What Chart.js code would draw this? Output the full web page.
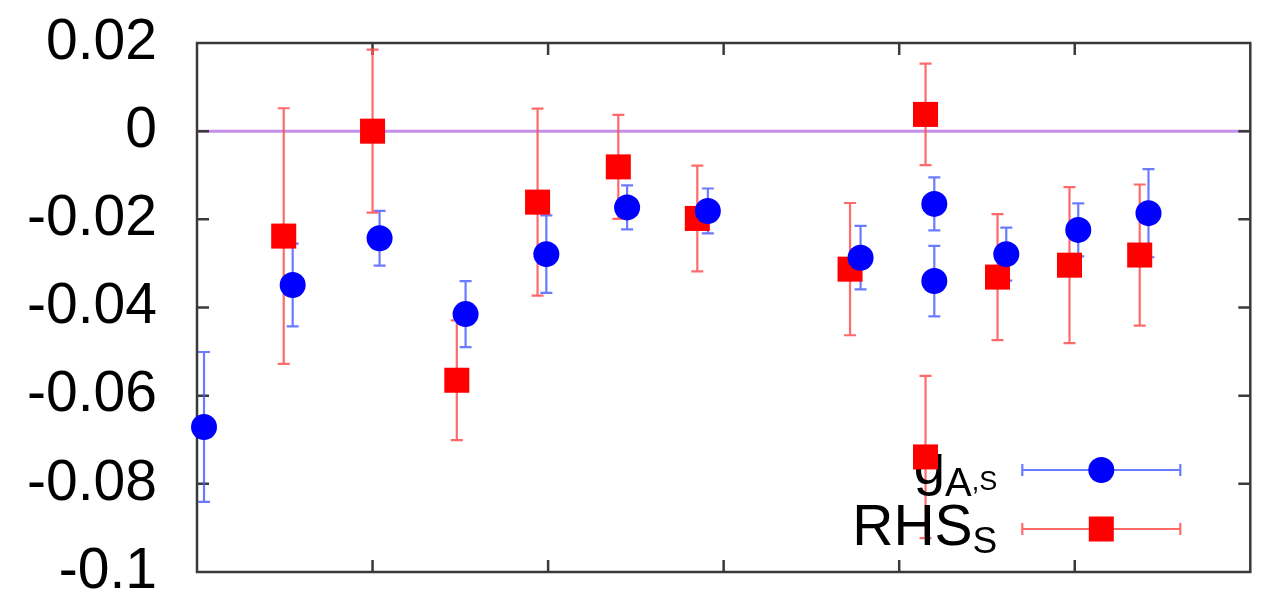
<!DOCTYPE html>
<html>
<head>
<meta charset="utf-8">
<script src="https://cdn.jsdelivr.net/npm/chart.js@4/dist/chart.umd.min.js"></script>
<style>
  body { margin: 0; background: #fff; }
  #wrap { width: 1268px; height: 595px; }
</style>
</head>
<body>
<div id="wrap"><canvas id="plot"></canvas></div>
<script>
// g_A,s points: position, central value, error
const gaX = [0.04, 0.545, 1.04, 1.53, 1.99, 2.45, 2.91, 3.78, 4.20, 4.20, 4.61, 5.02, 5.42];
const gaY = [-0.0671, -0.0349, -0.0243, -0.0415, -0.0279, -0.0173, -0.0181, -0.0287, -0.0165, -0.0340, -0.0279, -0.0224, -0.0186];
const gaErr = [0.0170, 0.0094, 0.0062, 0.0075, 0.0088, 0.0050, 0.0051, 0.0072, 0.0060, 0.0080, 0.0060, 0.0060, 0.0100];

// RHS_s points
const rhsX = [0.494, 1.0, 1.48, 1.94, 2.40, 2.85, 3.72, 4.15, 4.15, 4.56, 4.97, 5.37];
const rhsY = [-0.0238, 0.0, -0.0565, -0.0161, -0.0081, -0.0198, -0.0313, 0.0038, -0.0739, -0.0331, -0.0304, -0.0281];
const rhsErr = [0.0290, 0.0185, 0.0136, 0.0212, 0.0118, 0.0120, 0.0150, 0.0115, 0.0184, 0.0143, 0.0177, 0.0160];

const yTicks = [0.02, 0, -0.02, -0.04, -0.06, -0.08, -0.1];
const yTickLabels = ['0.02', '0', '-0.02', '-0.04', '-0.06', '-0.08', '-0.1'];
const xTicks = [1, 2, 3, 4, 5];

const FONT = '"Liberation Sans", Arial, Helvetica, sans-serif';

function toPoints(xs, ys, errs) {
  return xs.map((x, i) => ({ x: x, y: ys[i], err: errs[i] }));
}

// frame with inward ticks on all four sides, plus the zero line
const framePlugin = {
  id: 'frame',
  beforeDatasetsDraw(chart) {
    const { ctx, chartArea: a, scales } = chart;
    ctx.save();

    const y0 = scales.y.getPixelForValue(0);
    ctx.strokeStyle = '#c690ea';
    ctx.lineWidth = 3;
    ctx.beginPath();
    ctx.moveTo(a.left, y0);
    ctx.lineTo(a.right, y0);
    ctx.stroke();

    ctx.strokeStyle = '#3a3a3a';
    ctx.lineWidth = 2.5;
    ctx.strokeRect(a.left, a.top, a.right - a.left, a.bottom - a.top);

    const len = 12;
    ctx.beginPath();
    yTicks.slice(1, -1).forEach(v => {
      const py = scales.y.getPixelForValue(v);
      ctx.moveTo(a.left, py); ctx.lineTo(a.left + len, py);
      ctx.moveTo(a.right, py); ctx.lineTo(a.right - len, py);
    });
    xTicks.forEach(v => {
      const px = scales.x.getPixelForValue(v);
      ctx.moveTo(px, a.top); ctx.lineTo(px, a.top + len);
      ctx.moveTo(px, a.bottom); ctx.lineTo(px, a.bottom - len);
    });
    ctx.stroke();
    ctx.restore();
  }
};

// vertical error bars with caps, drawn under the markers
const errorBarPlugin = {
  id: 'errorBars',
  beforeDatasetsDraw(chart) {
    const { ctx, scales } = chart;
    ctx.save();
    chart.data.datasets.forEach(ds => {
      ctx.strokeStyle = ds.errColor;
      ctx.lineWidth = 2.2;
      ds.data.forEach(p => {
        const px = scales.x.getPixelForValue(p.x);
        const top = scales.y.getPixelForValue(p.y + p.err);
        const bot = scales.y.getPixelForValue(p.y - p.err);
        ctx.beginPath();
        ctx.moveTo(px, top); ctx.lineTo(px, bot);
        ctx.moveTo(px - 6, top); ctx.lineTo(px + 6, top);
        ctx.moveTo(px - 6, bot); ctx.lineTo(px + 6, bot);
        ctx.stroke();
      });
    });
    ctx.restore();
  }
};

// key in the lower right corner; each label is a list of [text, size, baseline offset]
const keyPlugin = {
  id: 'key',
  beforeDatasetsDraw(chart) {
    const { ctx, chartArea: a } = chart;
    ctx.save();
    const textRight = a.right - 253;
    const x1 = a.right - 228, x2 = a.right - 70, xm = (x1 + x2) / 2;
    const rows = [
      { y: a.bottom - 102, parts: [['g', 57, 14], ['A', 40, 26], [',S', 27, 20]], color: '#0000ff', err: 'rgba(70,90,255,0.8)', shape: 'circle' },
      { y: a.bottom - 43, parts: [['RHS', 57, 16], ['S', 37, 24]], color: '#ff0000', err: 'rgba(255,80,80,0.85)', shape: 'rect' }
    ];
    rows.forEach(r => {
      ctx.fillStyle = '#000';
      ctx.textBaseline = 'alphabetic';
      ctx.textAlign = 'left';
      const widths = r.parts.map(([t, s]) => {
        ctx.font = s + 'px ' + FONT;
        return ctx.measureText(t).width;
      });
      let x = textRight - widths.reduce((s, w) => s + w, 0);
      r.parts.forEach(([t, s, off], i) => {
        ctx.font = s + 'px ' + FONT;
        ctx.fillText(t, x, r.y + off);
        x += widths[i];
      });

      ctx.strokeStyle = r.err;
      ctx.lineWidth = 2.2;
      ctx.beginPath();
      ctx.moveTo(x1, r.y); ctx.lineTo(x2, r.y);
      ctx.moveTo(x1, r.y - 6); ctx.lineTo(x1, r.y + 6);
      ctx.moveTo(x2, r.y - 6); ctx.lineTo(x2, r.y + 6);
      ctx.stroke();

      ctx.fillStyle = r.color;
      if (r.shape === 'circle') {
        ctx.beginPath();
        ctx.arc(xm, r.y, 13, 0, Math.PI * 2);
        ctx.fill();
      } else {
        ctx.fillRect(xm - 12.5, r.y - 12.5, 25, 25);
      }
    });
    ctx.restore();
  }
};

new Chart(document.getElementById('plot'), {
  type: 'scatter',
  data: {
    datasets: [
      {
        label: 'gA,S',
        data: toPoints(gaX, gaY, gaErr),
        pointStyle: 'circle',
        pointRadius: 13,
        pointBackgroundColor: '#0000ff',
        pointBorderWidth: 0,
        errColor: 'rgba(70,90,255,0.8)',
        clip: false
      },
      {
        label: 'RHS_S',
        data: toPoints(rhsX, rhsY, rhsErr),
        pointStyle: 'rect',
        pointRadius: 17.7,
        pointBackgroundColor: '#ff0000',
        pointBorderWidth: 0,
        errColor: 'rgba(255,80,80,0.85)',
        clip: false
      }
    ]
  },
  options: {
    responsive: true,
    maintainAspectRatio: false,
    animation: false,
    layout: { padding: { top: 43, right: 15, left: 0, bottom: 0 } },
    plugins: { legend: { display: false }, tooltip: { enabled: false } },
    scales: {
      x: {
        type: 'linear',
        min: 0,
        max: 6,
        ticks: { display: false, stepSize: 1 },
        grid: { display: false },
        border: { display: false },
        afterFit(scale) {
          scale.height = 23;
          scale.paddingLeft = scale.paddingRight = 0;
        }
      },
      y: {
        type: 'linear',
        min: -0.1,
        max: 0.02,
        afterBuildTicks(scale) { scale.ticks = yTicks.map(v => ({ value: v })); },
        ticks: {
          padding: 40,
          color: '#000',
          font: { family: FONT, size: 57 },
          callback: (value) => yTickLabels[yTicks.findIndex(v => Math.abs(v - value) < 1e-9)]
        },
        grid: { display: false, drawTicks: false },
        border: { display: false },
        afterFit(scale) {
          scale.width = 197;
          scale.paddingTop = scale.paddingBottom = 0;
        }
      }
    }
  },
  plugins: [framePlugin, errorBarPlugin, keyPlugin]
});
</script>
</body>
</html>
